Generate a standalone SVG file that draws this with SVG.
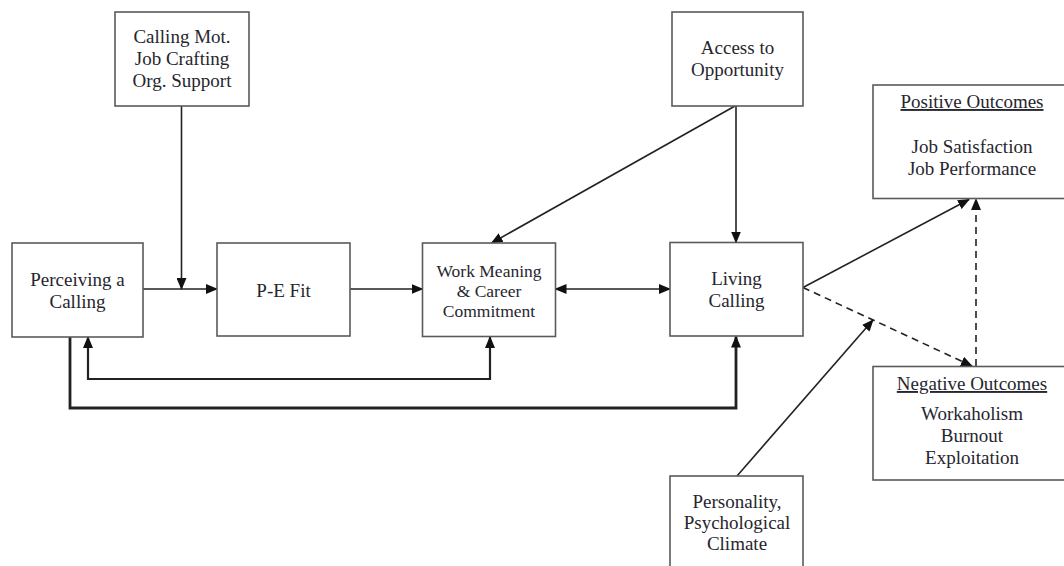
<svg xmlns="http://www.w3.org/2000/svg" width="1064" height="566" viewBox="0 0 1064 566">
<style>
  .box { fill: #ffffff; stroke: #5a5a5a; stroke-width: 1.6; }
  .t { font-family: "Liberation Serif", "Times New Roman", serif; font-size: 19px; fill: #26262e; text-anchor: middle; }
  .ts { font-size: 17.5px; }
  .u { text-decoration: underline; }
  .ln { fill: none; stroke: #222; stroke-width: 1.6; }
  .thick { stroke-width: 2.2; }
  .thicker { stroke-width: 2.8; }
  .dash { stroke-dasharray: 7 5; }
</style>
<defs>
  <marker id="ah" markerUnits="userSpaceOnUse" markerWidth="12" markerHeight="10" refX="11" refY="5" orient="auto-start-reverse" viewBox="0 0 12 10">
    <path d="M0,0 L12,5 L0,10 z" fill="#111"/>
  </marker>
</defs>
<rect width="1064" height="566" fill="#ffffff"/>

<g id="connectors">
  <line class="ln" x1="181.5" y1="106" x2="181.5" y2="289" marker-end="url(#ah)"/>
  <line class="ln" x1="143" y1="289" x2="217" y2="289" marker-end="url(#ah)"/>
  <line class="ln" x1="350" y1="289" x2="422.5" y2="289" marker-end="url(#ah)"/>
  <line class="ln" x1="555.5" y1="289" x2="670" y2="289" marker-start="url(#ah)" marker-end="url(#ah)"/>
  <line class="ln" x1="735" y1="106" x2="491.5" y2="243" marker-end="url(#ah)"/>
  <line class="ln" x1="736" y1="106" x2="736" y2="242.5" marker-end="url(#ah)"/>
  <line class="ln" x1="803" y1="287.5" x2="969" y2="199.5" marker-end="url(#ah)"/>
  <line class="ln dash" x1="803" y1="287.5" x2="972" y2="366" marker-end="url(#ah)"/>
  <line class="ln dash" x1="976" y1="366" x2="976" y2="199" marker-end="url(#ah)"/>
  <line class="ln" x1="737" y1="476" x2="873" y2="320" marker-end="url(#ah)"/>
  <polyline class="ln thick" points="88,337 88,379 490,379 490,337" marker-start="url(#ah)" marker-end="url(#ah)"/>
  <polyline class="ln thicker" points="70,337 70,408 736,408 736,336.5" marker-end="url(#ah)"/>
</g>

<g id="calling-mot">
  <rect class="box" x="115" y="12" width="134" height="94"/>
  <text class="t" x="182" y="43">Calling Mot.</text>
  <text class="t" x="182" y="65">Job Crafting</text>
  <text class="t" x="182" y="87">Org. Support</text>
</g>

<g id="access">
  <rect class="box" x="672" y="12" width="131" height="94"/>
  <text class="t" x="737.5" y="54">Access to</text>
  <text class="t" x="737.5" y="76">Opportunity</text>
</g>

<g id="perceiving">
  <rect class="box" x="12" y="243" width="131" height="94"/>
  <text class="t" x="77.5" y="286">Perceiving a</text>
  <text class="t" x="77.5" y="308">Calling</text>
</g>

<g id="pe-fit">
  <rect class="box" x="217" y="243" width="133" height="93"/>
  <text class="t" x="283.5" y="297">P-E Fit</text>
</g>

<g id="work-meaning">
  <rect class="box" x="422.5" y="243" width="133" height="93.5"/>
  <text class="t ts" x="489" y="277">Work Meaning</text>
  <text class="t ts" x="489" y="297">&amp; Career</text>
  <text class="t ts" x="489" y="317">Commitment</text>
</g>

<g id="living-calling">
  <rect class="box" x="670" y="242.5" width="133" height="93.5"/>
  <text class="t" x="736.5" y="285">Living</text>
  <text class="t" x="736.5" y="307">Calling</text>
</g>

<g id="positive">
  <rect class="box" x="873" y="85" width="198" height="113.5"/>
  <text class="t u" x="972" y="108">Positive Outcomes</text>
  <text class="t" x="972" y="153">Job Satisfaction</text>
  <text class="t" x="972" y="175">Job Performance</text>
</g>

<g id="negative">
  <rect class="box" x="873" y="366.5" width="198" height="113.5"/>
  <text class="t u" x="972" y="390">Negative Outcomes</text>
  <text class="t" x="972" y="420">Workaholism</text>
  <text class="t" x="972" y="442">Burnout</text>
  <text class="t" x="972" y="463.5">Exploitation</text>
</g>

<g id="personality">
  <rect class="box" x="670" y="476" width="133" height="100"/>
  <text class="t" x="737" y="508">Personality,</text>
  <text class="t" x="737" y="528.5">Psychological</text>
  <text class="t" x="737" y="550">Climate</text>
</g>
</svg>
